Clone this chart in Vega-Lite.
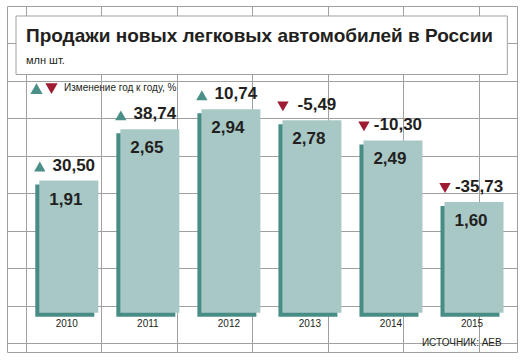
{
  "$schema": "https://vega.github.io/schema/vega-lite/v6.json",
  "width": 510,
  "height": 346,
  "autosize": "none",
  "padding": {"left": 7, "top": 6, "right": 7, "bottom": 9},
  "background": "white",
  "config": {
    "view": {"stroke": "#a0a0a0", "strokeWidth": 1},
    "font": "Liberation Sans",
    "locale": {"number": {"decimal": ",", "thousands": " ", "grouping": [3], "currency": ["", ""], "minus": "-"}},
    "axis": {"labels": false, "ticks": false, "domain": false, "gridColor": "#a0a0a0", "gridOpacity": 1, "gridWidth": 1}
  },
  "layer": [
    {
      "data": {"values": [
        {"year": 2010, "sales": 1.91, "change": 30.50, "dir": "рост"},
        {"year": 2011, "sales": 2.65, "change": 38.74, "dir": "рост"},
        {"year": 2012, "sales": 2.94, "change": 10.74, "dir": "рост"},
        {"year": 2013, "sales": 2.78, "change": -5.49, "dir": "падение"},
        {"year": 2014, "sales": 2.49, "change": -10.30, "dir": "падение"},
        {"year": 2015, "sales": 1.60, "change": -35.73, "dir": "падение"}
      ]},
      "encoding": {
        "x": {"field": "year", "type": "quantitative", "title": null,
          "scale": {"domain": [2009.2374, 2015.5306], "nice": false, "zero": false, "padding": 0},
          "axis": {"grid": true, "title": null, "values": [2009.4701, 2009.7029, 2009.9356, 2010.1683, 2010.4011, 2010.6338, 2010.8665, 2011.0992, 2011.332, 2011.5647, 2011.7974, 2012.0302, 2012.2629, 2012.4956, 2012.7284, 2012.9611, 2013.1938, 2013.4265, 2013.6593, 2013.892, 2014.1247, 2014.3575, 2014.5902, 2014.8229, 2015.0557, 2015.2884, 2015.4117]}},
        "y": {"field": "sales", "type": "quantitative", "title": null,
          "scale": {"domain": [-0.568, 4.432], "nice": false, "zero": false, "padding": 0},
          "axis": {"grid": true, "title": null, "values": [4.1612, 3.8904, 3.6196, 3.3488, 3.078, 2.8071, 2.5363, 2.2655, 1.9947, 1.7239, 1.4531, 1.1823, 0.9115, 0.6407, 0.3699, 0.0991, -0.1718, -0.4426]}}
      },
      "layer": [
        {
          "mark": {"type": "bar", "width": 59, "color": "#478d86", "xOffset": -4, "yOffset": 4, "y2Offset": 4},
          "encoding": {"y2": {"datum": 0}}
        },
        {
          "mark": {"type": "bar", "width": 59, "color": "#a8c8c6"},
          "encoding": {"y2": {"datum": 0}}
        },
        {
          "mark": {"type": "text", "fontSize": 17, "fontWeight": "bold", "color": "#231f20", "baseline": "middle", "dy": 19, "dx": -3},
          "encoding": {"text": {"field": "sales", "type": "quantitative", "format": ".2f"}}
        },
        {
          "mark": {"type": "text", "fontSize": 17, "fontWeight": "bold", "color": "#231f20", "baseline": "middle", "dy": -15, "dx": 5},
          "encoding": {"text": {"field": "change", "type": "quantitative", "format": ".2f"}}
        },
        {
          "mark": {"type": "point", "filled": true, "opacity": 1, "size": 130, "xOffset": -29, "yOffset": -14},
          "encoding": {
            "shape": {"field": "dir", "type": "nominal", "scale": {"domain": ["рост", "падение"], "range": ["triangle-up", "triangle-down"]},
              "legend": {"title": "Изменение год к году, %", "orient": "none", "legendX": 23, "legendY": 76, "direction": "horizontal", "titleOrient": "right", "labelExpr": "''", "labelOffset": 0, "columnPadding": 2, "symbolSize": 150, "symbolStrokeWidth": 0, "padding": 0, "titleFontSize": 10, "titleFontWeight": "normal", "titleColor": "#231f20", "titlePadding": 6, "titleBaseline": "middle"}},
            "color": {"field": "dir", "type": "nominal", "scale": {"domain": ["рост", "падение"], "range": ["#4b9088", "#9e1b32"]},
              "legend": {"title": "Изменение год к году, %", "orient": "none", "legendX": 23, "legendY": 76, "direction": "horizontal", "titleOrient": "right", "labelExpr": "''", "labelOffset": 0, "columnPadding": 2, "symbolSize": 150, "symbolStrokeWidth": 0, "padding": 0, "titleFontSize": 10, "titleFontWeight": "normal", "titleColor": "#231f20", "titlePadding": 6, "titleBaseline": "middle"}}
          }
        },
        {
          "mark": {"type": "text", "fontSize": 10, "color": "#231f20", "baseline": "middle", "dy": 11, "dx": -2},
          "encoding": {
            "y": {"datum": 0, "type": "quantitative", "title": null},
            "text": {"field": "year", "type": "quantitative", "format": "d"}
          }
        }
      ]
    },
    {
      "data": {"values": [{}]},
      "layer": [
        {
          "mark": {"type": "rect", "fill": "white", "stroke": "#a0a0a0", "strokeWidth": 1},
          "encoding": {
            "x": {"datum": 2009.3485, "type": "quantitative", "title": null},
            "x2": {"datum": 2015.4109},
            "y": {"datum": 4.2875, "type": "quantitative", "title": null},
            "y2": {"datum": 3.4421}
          }
        },
        {
          "mark": {"type": "text", "align": "left", "baseline": "alphabetic", "fontSize": 19, "fontWeight": "bold", "color": "#231f20"},
          "encoding": {
            "x": {"datum": 2009.4719, "type": "quantitative", "title": null},
            "y": {"datum": 3.9161, "type": "quantitative", "title": null},
            "text": {"value": "Продажи новых легковых автомобилей в России"}
          }
        },
        {
          "mark": {"type": "text", "align": "left", "baseline": "alphabetic", "fontSize": 11, "color": "#231f20"},
          "encoding": {
            "x": {"datum": 2009.4719, "type": "quantitative", "title": null},
            "y": {"datum": 3.5938, "type": "quantitative", "title": null},
            "text": {"value": "млн шт."}
          }
        },
        {
          "mark": {"type": "text", "align": "right", "baseline": "middle", "fontSize": 10, "color": "#231f20"},
          "encoding": {
            "x": {"datum": 2015.3418, "type": "quantitative", "title": null},
            "y": {"datum": -0.4379, "type": "quantitative", "title": null},
            "text": {"value": "ИСТОЧНИК: АЕВ"}
          }
        }
      ]
    }
  ]
}
